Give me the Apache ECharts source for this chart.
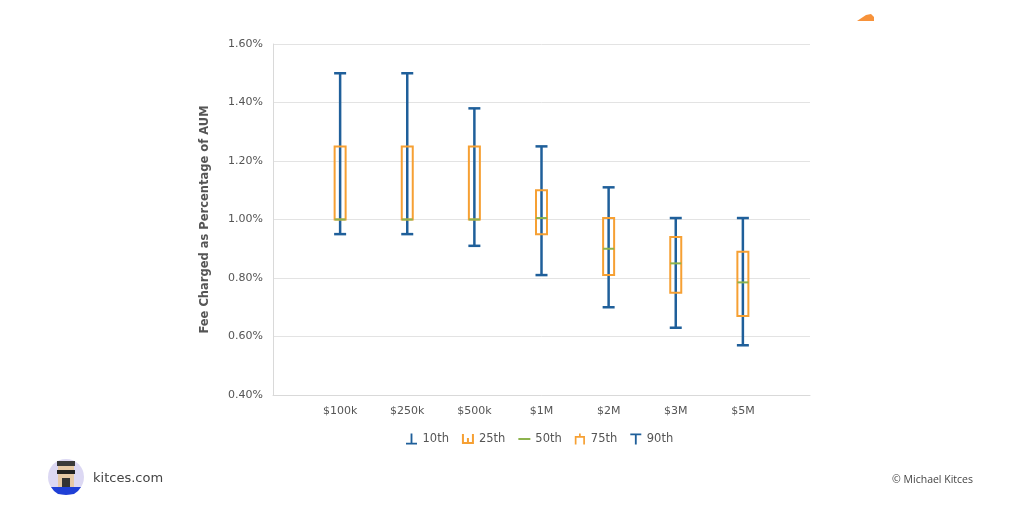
<!DOCTYPE html>
<html>
<head>
<meta charset="utf-8">
<script src="https://cdn.jsdelivr.net/npm/echarts@6/dist/echarts.min.js"></script>
<style>
html,body{margin:0;padding:0;background:#fff;}
#c{width:1024px;height:512px;}
</style>
</head>
<body>
<div id="c"></div>
<script>
const categories = ['$100k', '$250k', '$500k', '$1M', '$2M', '$3M', '$5M'];
const p10 = [0.95, 0.95, 0.91, 0.81, 0.70, 0.63, 0.57];
const p25 = [1.00, 1.00, 1.00, 0.95, 0.81, 0.75, 0.67];
const p50 = [1.00, 1.00, 1.00, 1.005, 0.90, 0.85, 0.785];
const p75 = [1.25, 1.25, 1.25, 1.10, 1.005, 0.94, 0.89];
const p90 = [1.50, 1.50, 1.38, 1.25, 1.11, 1.005, 1.005];
const legendNames = ['10th', '25th', '50th', '75th', '90th'];

const BLUE = '#1f5f9a';
const ORANGE = '#f6a033';
const GREEN = '#8db34e';
const FONT = 'DejaVu Sans';

const axisData = [''].concat(categories).concat(['']);
const boxData = categories.map((c, i) => [i + 1, p10[i], p25[i], p50[i], p75[i], p90[i]]);

const icons = {
  '10th': 'path://M5,0 L7,0 L7,10 L12,10 L12,12 L0,12 L0,10 L5,10 Z',
  '25th': 'path://M0,2 L2,2 L2,10 L5,10 L5,6 L7,6 L7,10 L10,10 L10,2 L12,2 L12,12 L0,12 Z',
  '50th': 'path://M0,5 L12,5 L12,7 L0,7 Z',
  '75th': 'path://M0,0 L5,0 L5,-3 L7,-3 L7,0 L12,0 L12,10 L10,10 L10,2 L2,2 L2,10 L0,10 Z',
  '90th': 'path://M0,0 L12,0 L12,2 L7,2 L7,12 L5,12 L5,2 L0,2 Z'
};
const legendColors = {'10th': BLUE, '25th': ORANGE, '50th': GREEN, '75th': ORANGE, '90th': BLUE};

const chart = echarts.init(document.getElementById('c'));

const series = [{
  name: 'box',
  type: 'custom',
  data: boxData,
  encode: {x: 0, y: [1, 2, 3, 4, 5]},
  renderItem: function (params, api) {
    const x = api.value(0);
    const c10 = api.coord([x, api.value(1)]);
    const c25 = api.coord([x, api.value(2)]);
    const c50 = api.coord([x, api.value(3)]);
    const c75 = api.coord([x, api.value(4)]);
    const c90 = api.coord([x, api.value(5)]);
    const hw = 6;
    const cx = c10[0];
    return {
      type: 'group',
      children: [
        {type: 'line', shape: {x1: cx, y1: c10[1], x2: cx, y2: c90[1]}, style: {stroke: BLUE, lineWidth: 2.5}},
        {type: 'line', shape: {x1: cx - hw, y1: c10[1], x2: cx + hw, y2: c10[1]}, style: {stroke: BLUE, lineWidth: 2.5}},
        {type: 'line', shape: {x1: cx - hw, y1: c90[1], x2: cx + hw, y2: c90[1]}, style: {stroke: BLUE, lineWidth: 2.5}},
        {type: 'rect', shape: {x: cx - 5.5, y: c75[1], width: 11, height: c25[1] - c75[1]}, style: {fill: 'none', stroke: ORANGE, lineWidth: 2}},
        {type: 'line', shape: {x1: cx - 5.5, y1: c50[1], x2: cx + 5.5, y2: c50[1]}, style: {stroke: GREEN, lineWidth: 2}}
      ]
    };
  },
  z: 5
}];
legendNames.forEach(n => {
  series.push({name: n, type: 'line', data: [], itemStyle: {color: legendColors[n]}, lineStyle: {color: legendColors[n]}});
});

chart.setOption({
  animation: false,
  backgroundColor: '#fff',
  grid: {left: 273, right: 214, top: 44, bottom: 117},
  legend: {
    data: legendNames.map(n => ({name: n, icon: icons[n], itemStyle: {color: legendColors[n]}})),
    top: 428,
    left: 401,
    itemWidth: 12,
    itemHeight: 11,
    itemGap: 13,
    textStyle: {fontFamily: FONT, fontSize: 11.5, color: '#555'}
  },
  xAxis: {
    type: 'category',
    data: axisData,
    boundaryGap: false,
    axisLine: {show: true, lineStyle: {color: '#d9d9d9', width: 1}},
    axisTick: {show: false},
    axisLabel: {fontFamily: FONT, fontSize: 11, color: '#555', margin: 11, interval: 0},
    splitLine: {show: false}
  },
  yAxis: {
    type: 'value',
    min: 0.4,
    max: 1.6,
    interval: 0.2,
    name: 'Fee Charged as Percentage of AUM',
    nameLocation: 'middle',
    nameGap: 62,
    nameTextStyle: {fontFamily: FONT, fontSize: 11.5, fontWeight: 'bold', color: '#555'},
    axisLine: {show: true, lineStyle: {color: '#d9d9d9', width: 1}},
    axisTick: {show: false},
    axisLabel: {fontFamily: FONT, fontSize: 11, color: '#555', margin: 10, formatter: v => v.toFixed(2) + '%'},
    splitLine: {lineStyle: {color: '#e3e3e3', width: 1}}
  },
  series: series,
  graphic: [
    {type: 'circle', shape: {cx: 66, cy: 477, r: 18}, style: {fill: '#dcd8f3'}, z: 10},
    {type: 'rect', shape: {x: 58, y: 463, width: 16, height: 24}, style: {fill: '#e6c9a6'}, z: 11},
    {type: 'polygon', shape: {points: [[51, 487], [81, 487], [78, 491], [74, 494], [66, 495], [58, 494], [54, 491]]}, style: {fill: '#1f3fd6'}, z: 12},
    {type: 'rect', shape: {x: 57, y: 461, width: 18, height: 5}, style: {fill: '#3a3a3a'}, z: 12},
    {type: 'rect', shape: {x: 57, y: 470, width: 18, height: 4}, style: {fill: '#222'}, z: 12},
    {type: 'rect', shape: {x: 62, y: 478, width: 8, height: 9}, style: {fill: '#333'}, z: 12},
    {type: 'text', left: 93, top: 472, style: {text: 'kitces.com', font: '13px "DejaVu Sans"', fill: '#444'}, z: 10},
    {type: 'text', right: 51, top: 475, style: {text: '© Michael Kitces', font: '10.5px "Open Sans"', fill: '#444'}, z: 10},
    {type: 'polygon', shape: {points: [[857, 21], [866, 15], [871, 14], [874, 17], [874, 21]]}, style: {fill: '#f7923a'}, z: 10}
  ]
});
</script>
</body>
</html>
